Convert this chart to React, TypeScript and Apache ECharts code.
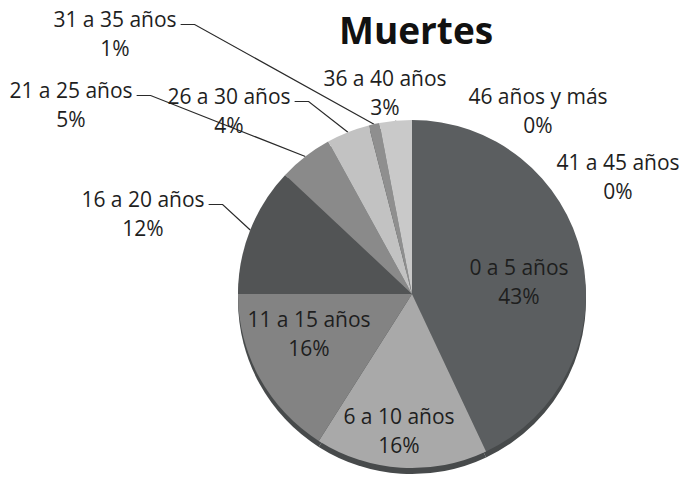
import React, { useEffect, useRef } from 'react';
import * as echarts from 'echarts';

const categories = [
  '0 a 5 años',
  '6 a 10 años',
  '11 a 15 años',
  '16 a 20 años',
  '21 a 25 años',
  '26 a 30 años',
  '31 a 35 años',
  '36 a 40 años',
  '41 a 45 años',
  '46 años y más',
];
const percentages = [43, 16, 16, 12, 5, 4, 1, 3, 0, 0];

// styling / placement (not data)
const sliceColors = ['#5b5e60', '#a9a9a9', '#838383', '#525455', '#8a8a8a', '#c2c2c2', '#8f8f8f', '#c9c9c9', '#b5b5b5', '#b5b5b5'];
const labelCenters: [number, number][] = [
  [519, 281],
  [399, 430],
  [309, 333],
  [143, 213],
  [71, 104],
  [229, 110],
  [115, 33],
  [385, 92],
  [618, 176],
  [538, 110],
];
const lineKind = ['none', 'none', 'none', 'dash', 'dash', 'dash', 'dash', 'tick', 'none', 'none'];

const FONT = 'Open Sans';
const LINE_H = 29;

export default function App() {
  const ref = useRef<HTMLDivElement>(null);
  useEffect(() => {
    document.body.style.margin = '0';
    const chart = echarts.init(ref.current!, null, { renderer: 'svg' });
    const center = [412, 294];
    const radius = 174;
    chart.setOption({
      animation: false,
      backgroundColor: '#ffffff',
      title: {
        text: 'Muertes',
        left: 334,
        top: 6,
        textStyle: { fontFamily: FONT, fontWeight: 'bold', fontSize: 37, color: '#111111' },
      },
      series: [
        {
          type: 'pie',
          silent: true,
          center: [center[0], center[1] + 6],
          radius: radius,
          startAngle: 90,
          z: 1,
          label: { show: false },
          labelLine: { show: false },
          itemStyle: { color: '#474a4b' },
          data: categories.map((c, i) => ({ name: c, value: percentages[i] })),
        },
        {
          type: 'pie',
          center: center,
          radius: radius,
          startAngle: 90,
          clockwise: true,
          z: 2,
          avoidLabelOverlap: false,
          label: {
            show: true,
            fontFamily: FONT,
            fontSize: 21,
            lineHeight: LINE_H,
            color: '#1e1e1e',
            formatter: (p: any) => `${p.name}\n${Math.round(p.percent)}%`,
          },
          labelLine: {
            show: true,
            length: 10,
            length2: 10,
            smooth: false,
            lineStyle: { color: '#2a2a2a', width: 1.2 },
          },
          labelLayout: (params: any) => {
            const i = params.dataIndex;
            const [cx, cy] = labelCenters[i];
            const w = params.labelRect.width;
            const h = params.labelRect.height;
            const out: any = { x: cx, y: cy, align: 'center', verticalAlign: 'middle' };
            const pts = params.labelLinePoints;
            if (pts && pts.length) {
              const start = pts[0];
              if (lineKind[i] === 'dash') {
                const right = cx + w / 2;
                const y1 = cy - h / 2 + LINE_H / 2 + 6;
                out.labelLinePoints = [start, [right + 18, y1], [right + 4, y1]];
              } else if (lineKind[i] === 'tick') {
                out.labelLinePoints = [start, [start[0], cy + h / 2], [start[0], cy + h / 2]];
              }
            }
            return out;
          },
          itemStyle: { borderWidth: 0 },
          emphasis: { disabled: true },
          data: categories.map((c, i) => {
            const inside = lineKind[i] === 'none' && i < 3;
            return {
              name: c,
              value: percentages[i],
              itemStyle: { color: sliceColors[i] },
              label: { position: inside ? 'inside' : 'outside' },
              labelLine: { show: lineKind[i] !== 'none' },
            };
          }),
        },
      ],
    });
    return () => chart.dispose();
  }, []);
  return <div ref={ref} style={{ width: 685, height: 480 }} />;
}
